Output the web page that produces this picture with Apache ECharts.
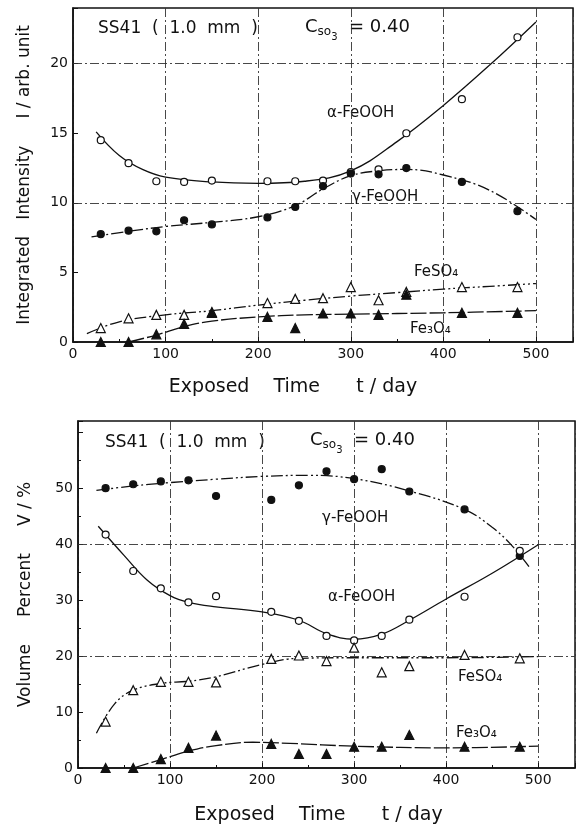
<!DOCTYPE html>
<html>
<head>
<meta charset="utf-8">
<script src="https://cdn.jsdelivr.net/npm/echarts@6/dist/echarts.min.js"></script>
<style>
  html, body { margin: 0; padding: 0; background: #fff; }
  #chart { width: 578px; height: 830px; }
</style>
</head>
<body>
<div id="chart"></div>
<script>
// exposure days of the measured points
const days = [30, 60, 90, 120, 150, 210, 240, 270, 300, 330, 360, 420, 480]

// upper panel: integrated intensity (arb. unit)
const intAlpha = [14.5, 12.85, 11.55, 11.5, 11.6, 11.55, 11.55, 11.6, 12.2, 12.4, 15.0, 17.45, 21.9]
const intGamma = [7.75, 8.0, 7.95, 8.75, 8.45, 8.95, 9.7, 11.2, 12.1, 12.05, 12.5, 11.5, 9.4]
const intFeSO4 = [1.0, 1.7, 1.95, 1.95, 2.15, 2.8, 3.1, 3.15, 3.95, 3.0, 3.6, 3.95, 3.95]
const intFe3O4 = [0, 0, 0.55, 1.3, 2.1, 1.8, 1.0, 2.05, 2.05, 1.95, 3.4, 2.1, 2.1]

// upper panel: hand-drawn fitting curves [day, value]
const fitIntAlpha = [[25, 15.1], [50, 13.4], [75, 12.4], [100, 11.85], [150, 11.5], [200, 11.4], [250, 11.55], [300, 12.3], [350, 14.4], [400, 17.0], [450, 19.9], [500, 23.0]]
const fitIntGamma = [[20, 7.55], [60, 7.95], [100, 8.3], [150, 8.6], [200, 9.0], [240, 9.8], [270, 11.0], [300, 11.95], [330, 12.3], [360, 12.4], [400, 12.0], [450, 10.9], [500, 8.8]]
const fitIntFeSO4 = [[15, 0.6], [50, 1.45], [100, 1.95], [150, 2.25], [200, 2.65], [250, 3.0], [300, 3.3], [350, 3.55], [400, 3.8], [450, 4.0], [500, 4.2]]
const fitIntFe3O4 = [[60, 0], [90, 0.5], [120, 1.1], [150, 1.5], [200, 1.8], [250, 1.95], [300, 2.0], [400, 2.1], [500, 2.25]]

// lower panel: volume percent (%)
const volGamma = [50.0, 50.7, 51.2, 51.4, 48.6, 47.9, 50.5, 53.0, 51.6, 53.4, 49.4, 46.2, 37.9]
const volAlpha = [41.7, 35.2, 32.1, 29.6, 30.7, 27.9, 26.3, 23.6, 22.8, 23.6, 26.5, 30.6, 38.8]
const volFeSO4 = [8.3, 13.9, 15.4, 15.4, 15.3, 19.5, 20.1, 19.1, 21.5, 17.1, 18.2, 20.2, 19.6]
const volFe3O4 = [0, 0, 1.6, 3.6, 5.8, 4.3, 2.5, 2.5, 3.8, 3.8, 5.9, 3.8, 3.8]

const fitVolGamma = [[20, 49.6], [60, 50.4], [100, 51.0], [150, 51.6], [200, 52.1], [250, 52.3], [300, 51.7], [360, 49.5], [420, 46.2], [450, 43.0], [470, 40.0], [490, 36.0]]
const fitVolAlpha = [[22, 43.2], [50, 38.0], [75, 33.6], [100, 30.8], [120, 29.6], [150, 28.8], [200, 27.9], [240, 26.4], [270, 24.0], [300, 23.0], [330, 23.9], [360, 26.4], [400, 30.2], [450, 34.8], [500, 39.9]]
const fitVolFeSO4 = [[20, 6.2], [40, 11.5], [60, 13.9], [90, 15.1], [120, 15.5], [150, 16.3], [200, 18.5], [240, 19.6], [300, 19.7], [400, 19.7], [500, 19.9]]
const fitVolFe3O4 = [[60, 0], [90, 1.5], [120, 3.0], [150, 4.0], [190, 4.6], [230, 4.4], [300, 3.9], [400, 3.6], [500, 3.9]]

// tick labels and horizontal guide lines
const xTicks = [0, 100, 200, 300, 400, 500]
const intTicks = [0, 5, 10, 15, 20]
const volTicks = [0, 10, 20, 30, 40, 50]
const intGuides = [10, 20]
const volGuides = [20, 40]

const FONT = '"DejaVu Sans", sans-serif'
const INK = '#111'
const GUIDE = { color: '#333', width: 0.9, type: [9, 3, 2, 3] }

function pts(ys) {
    return days.map((d, i) => [d, ys[i]])
}

function dots(name, ys, grid, symbol, filled) {
    return {
        name: name, type: 'scatter', xAxisIndex: grid, yAxisIndex: grid,
        data: pts(ys), symbol: symbol, symbolSize: symbol === 'triangle' ? 9 : 7,
        itemStyle: { color: filled ? INK : '#fff', borderColor: INK, borderWidth: 1.2, opacity: 1 },
        z: 5, silent: true
    }
}

function curve(name, data, grid, dash, guides) {
    const s = {
        name: name, type: 'line', xAxisIndex: grid, yAxisIndex: grid,
        data: data, smooth: 0.4, showSymbol: false, silent: true,
        lineStyle: { color: INK, width: 1.3, type: dash }, z: 3
    }
    if (guides) {
        s.markLine = {
            silent: true, symbol: 'none', label: { show: false },
            lineStyle: GUIDE, z: 1,
            data: guides.map(v => ({ yAxis: v }))
        }
    }
    return s
}

const solid = 'solid'
const dashDot = [12, 3, 2, 3]
const dashDotDot = [12, 3, 2, 3, 2, 3]
const longDash = [16, 3]

function xAxis(grid, nameGap, shift) {
    return {
        type: 'value', gridIndex: grid, min: 0, max: 540, interval: 100,
        name: 'Exposed    Time      t / day', nameLocation: 'middle', nameGap: nameGap,
        nameTextStyle: { fontFamily: FONT, fontSize: 19, color: INK, padding: [0, shift, 0, 0] },
        axisLine: { show: true, lineStyle: { color: INK, width: 1.5 } },
        axisTick: { show: true, inside: true, length: 5, lineStyle: { color: INK } },
        minorTick: { show: true, splitNumber: 2, length: 3, lineStyle: { color: INK } },
        axisLabel: {
            fontFamily: FONT, fontSize: 14, color: INK, margin: 5,
            formatter: v => xTicks.includes(v) ? String(v) : ''
        },
        splitLine: { show: true, lineStyle: GUIDE }
    }
}

function yAxis(grid, max, interval, ticks, name, nameGap) {
    return {
        type: 'value', gridIndex: grid, min: 0, max: max, interval: interval,
        name: name, nameLocation: 'middle', nameGap: nameGap,
        nameTextStyle: { fontFamily: FONT, fontSize: 17, color: INK },
        axisLine: { show: true, lineStyle: { color: INK, width: 1.5 } },
        axisTick: { show: true, inside: true, length: 5, lineStyle: { color: INK } },
        minorTick: { show: grid === 1, splitNumber: 2, length: 3, lineStyle: { color: INK } },
        axisLabel: {
            fontFamily: FONT, fontSize: 14, color: INK, margin: 5,
            formatter: v => ticks.includes(v) ? String(v) : ''
        },
        splitLine: { show: false }
    }
}

function txt(x, y, text, size) {
    return { type: 'text', left: x, top: y, silent: true,
        style: { text: text, font: (size || 15) + 'px ' + FONT, fill: INK } }
}

function cso3(x, y) {
    return { type: 'text', left: x, top: y, silent: true,
        style: {
            text: '{m|C}{s|so}{t|3}{m|  = 0.40}',
            rich: {
                m: { fontFamily: FONT, fontSize: 18, fill: INK, lineHeight: 22, verticalAlign: 'bottom' },
                s: { fontFamily: FONT, fontSize: 12, fill: INK, lineHeight: 22, verticalAlign: 'bottom', padding: [0, 0, -2, 0] },
                t: { fontFamily: FONT, fontSize: 10, fill: INK, lineHeight: 22, verticalAlign: 'bottom', padding: [0, 0, -6, 0] }
            }
        } }
}

const chart = echarts.init(document.getElementById('chart'), null, { renderer: 'canvas' })

const option = {
    animation: false,
    backgroundColor: '#fff',
    grid: [
        { left: 73, right: 5, top: 8, bottom: 488, show: true, borderColor: INK, borderWidth: 1.5 },
        { left: 78, right: 3, top: 421, bottom: 62, show: true, borderColor: INK, borderWidth: 1.5 }
    ],
    xAxis: [xAxis(0, 36, 60), xAxis(1, 38, 16)],
    yAxis: [
        yAxis(0, 24, 5, intTicks, 'Integrated   Intensity     I / arb. unit', 40),
        yAxis(1, 62, 10, volTicks, 'Volume     Percent     V / %', 44)
    ],
    series: [
        curve('α-FeOOH', fitIntAlpha, 0, solid, intGuides),
        curve('γ-FeOOH', fitIntGamma, 0, dashDot),
        curve('FeSO4', fitIntFeSO4, 0, dashDotDot),
        curve('Fe3O4', fitIntFe3O4, 0, longDash),
        dots('α-FeOOH', intAlpha, 0, 'circle', false),
        dots('γ-FeOOH', intGamma, 0, 'circle', true),
        dots('FeSO4', intFeSO4, 0, 'triangle', false),
        dots('Fe3O4', intFe3O4, 0, 'triangle', true),

        curve('γ-FeOOH', fitVolGamma, 1, dashDotDot, volGuides),
        curve('α-FeOOH', fitVolAlpha, 1, solid),
        curve('FeSO4', fitVolFeSO4, 1, dashDotDot),
        curve('Fe3O4', fitVolFe3O4, 1, longDash),
        dots('γ-FeOOH', volGamma, 1, 'circle', true),
        dots('α-FeOOH', volAlpha, 1, 'circle', false),
        dots('FeSO4', volFeSO4, 1, 'triangle', false),
        dots('Fe3O4', volFe3O4, 1, 'triangle', true)
    ],
    graphic: [
        txt(98, 20, 'SS41  (  1.0  mm  )', 17),
        cso3(305, 18),
        txt(327, 106, 'α-FeOOH'),
        txt(352, 190, 'γ-FeOOH'),
        txt(414, 265, 'FeSO₄'),
        txt(410, 322, 'Fe₃O₄'),

        txt(105, 434, 'SS41  (  1.0  mm  )', 17),
        cso3(310, 431),
        txt(322, 511, 'γ-FeOOH'),
        txt(328, 590, 'α-FeOOH'),
        txt(458, 670, 'FeSO₄'),
        txt(456, 726, 'Fe₃O₄')
    ]
}

chart.setOption(option)
</script>
</body>
</html>
